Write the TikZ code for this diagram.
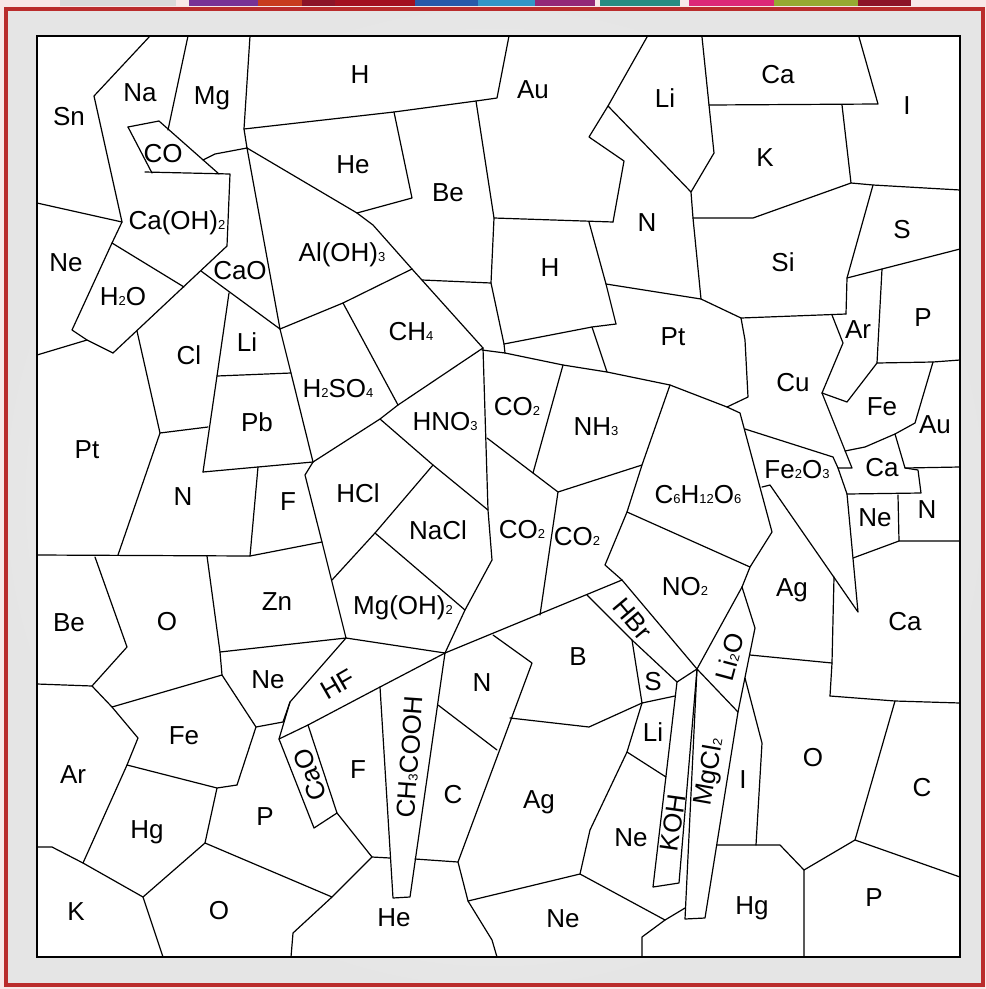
\documentclass[tikz,border=0pt]{standalone}
\usepackage{fontspec}
\setmainfont{Liberation Sans}
\newcommand{\subnum}[1]{{\fontsize{13}{13}\selectfont #1}}
\definecolor{framered}{RGB}{186,44,44}
\definecolor{outerpink}{RGB}{248,232,232}
\definecolor{stripA}{RGB}{120,50,150}
\definecolor{stripB}{RGB}{200,60,30}
\definecolor{stripC}{RGB}{140,20,40}
\definecolor{stripD}{RGB}{40,90,170}
\definecolor{stripE}{RGB}{50,150,200}
\definecolor{stripF}{RGB}{40,140,130}
\definecolor{stripG}{RGB}{220,40,120}
\definecolor{stripH}{RGB}{150,170,50}
\usetikzlibrary{positioning}

\begin{document}
\begin{tikzpicture}[x=1pt,y=-1pt]
\tikzset{
  cellline/.style={line width=1.2pt,line join=round,line cap=round},
  cellname/.style={font=\fontsize{26}{30}\selectfont,inner sep=0pt},
  boxframe/.style={line width=2pt}
}
\useasboundingbox (0,0) rectangle (986,989);
% frame and backdrop
\fill[outerpink] (0,0) rectangle (986,989);
\shade[inner color=white,outer color=gray!20] (6,9) rectangle (983,985);
\fill[gray!30] (60,0) rectangle (176,6);
\fill[stripA] (189,0) rectangle (258,6);
\fill[stripB] (258,0) rectangle (302,6);
\fill[stripC] (302,0) rectangle (335,6);
\fill[stripC!80!red] (335,0) rectangle (415,6);
\fill[stripD] (415,0) rectangle (478,6);
\fill[stripE] (478,0) rectangle (535,6);
\fill[stripA!80!red] (535,0) rectangle (595,6);
\fill[stripF] (600,0) rectangle (680,6);
\fill[stripG] (689,0) rectangle (774,6);
\fill[stripH] (774,0) rectangle (858,6);
\fill[stripC] (858,0) rectangle (911,6);
\draw[framered,line width=4pt] (6,9) rectangle (983,985);
\fill[white] (37,36) rectangle (960,957);

% cell boundaries, top left
\draw[cellline] (150,36) -- (94,96) -- (122,222) -- (112,243) -- (72,330) -- (87,340) -- (113,353);
\draw[cellline] (37,203) -- (122,222);
\draw[cellline] (37,355) -- (87,340);
\draw[cellline] (188,36) -- (168,130);
\draw[cellline] (128,127) -- (159,121) -- (219,174);
\draw[cellline] (128,127) -- (152,173);
\draw[cellline] (145,172) -- (230,174) -- (227,246) -- (113,353);
\draw[cellline] (112,243) -- (184,287);
\draw[cellline] (250,36) -- (244,129) -- (247,148);
\draw[cellline] (244,129) -- (394,112) -- (476,101) -- (497,98) -- (509,36);
\draw[cellline] (203,160) -- (215,154) -- (247,148);
\draw[cellline] (247,148) -- (357,213) -- (373,225) -- (412,269) -- (483,348);
\draw[cellline] (357,213) -- (412,198) -- (394,112);
\draw[cellline] (247,148) -- (280,329);
\draw[cellline] (201,271) -- (280,329);
\draw[cellline] (229,293) -- (217,376) -- (203,472);
\draw[cellline] (280,329) -- (343,303) -- (412,269);
\draw[cellline] (280,329) -- (291,373) -- (313,462);
\draw[cellline] (217,376) -- (291,373);
\draw[cellline] (203,472) -- (313,462);
\draw[cellline] (160,433) -- (208,427);
\draw[cellline] (137,331) -- (160,433) -- (118,555);
\draw[cellline] (37,555) -- (250,556) -- (322,542);
\draw[cellline] (258,467) -- (250,556);
\draw[cellline] (313,462) -- (305,475) -- (322,542) -- (346,638);

% cell boundaries, centre
\draw[cellline] (343,303) -- (363,340) -- (398,405);
\draw[cellline] (313,462) -- (380,419) -- (398,405) -- (483,348);
\draw[cellline] (380,419) -- (433,465) -- (488,510);
\draw[cellline] (433,465) -- (375,533) -- (332,580);
\draw[cellline] (375,533) -- (465,610);
\draw[cellline] (483,348) -- (488,510) -- (492,560) -- (465,610) -- (445,653);
\draw[cellline] (346,638) -- (445,653) -- (622,580);
\draw[cellline] (482,350) -- (505,353) -- (563,365) -- (607,372) -- (670,385) -- (727,407) -- (740,413) -- (772,532) -- (750,567) -- (742,587);
\draw[cellline] (563,365) -- (533,473) -- (558,492) -- (642,465);
\draw[cellline] (487,438) -- (533,473);
\draw[cellline] (558,492) -- (540,615);
\draw[cellline] (622,580) -- (605,565) -- (627,512) -- (642,465) -- (670,385);
\draw[cellline] (627,512) -- (750,567);
\draw[cellline] (422,280) -- (491,283);
\draw[cellline] (476,101) -- (494,218) -- (491,283) -- (504,344) -- (505,353);
\draw[cellline] (494,218) -- (613,222);
\draw[cellline] (589,222) -- (606,284) -- (616,324);
\draw[cellline] (504,344) -- (592,327) -- (616,324);
\draw[cellline] (592,327) -- (607,372);

% cell boundaries, top right
\draw[cellline] (613,222) -- (624,161) -- (589,137) -- (608,106) -- (647,37);
\draw[cellline] (608,106) -- (691,192);
\draw[cellline] (702,37) -- (709,105) -- (714,153) -- (691,192) -- (693,218) -- (701,299);
\draw[cellline] (709,105) -- (878,104) -- (859,37);
\draw[cellline] (842,105) -- (851,183) -- (873,185) -- (960,190);
\draw[cellline] (693,218) -- (753,218) -- (851,183);
\draw[cellline] (873,185) -- (847,278) -- (846,314);
\draw[cellline] (847,278) -- (882,269) -- (960,249);
\draw[cellline] (606,284) -- (701,299) -- (741,318) -- (846,314);
\draw[cellline] (727,407) -- (748,397) -- (745,340) -- (741,318);
\draw[cellline] (832,315) -- (843,343) -- (822,393) -- (847,402) -- (877,363);
\draw[cellline] (882,269) -- (877,363) -- (933,362) -- (960,360);
\draw[cellline] (822,393) -- (852,468) -- (838,468);
\draw[cellline] (933,362) -- (915,423) -- (895,434) -- (865,447) -- (845,451);
\draw[cellline] (895,434) -- (905,468) -- (918,470) -- (921,493) -- (847,494);
\draw[cellline] (905,468) -- (960,467);
\draw[cellline] (898,495) -- (899,541) -- (960,541);
\draw[cellline] (853,558) -- (899,541);
\draw[cellline] (745,429) -- (833,457) -- (838,468) -- (847,494) -- (858,612) -- (770,485) -- (762,487);

% cell boundaries, right middle and bottom right
\draw[cellline] (834,577) -- (832,663) -- (830,696);
\draw[cellline] (742,587) -- (755,628) -- (738,712);
\draw[cellline] (697,669) -- (742,587);
\draw[cellline] (750,655) -- (832,663);
\draw[cellline] (745,678) -- (762,743) -- (756,845);
\draw[cellline] (717,845) -- (780,845) -- (804,870) -- (804,957);
\draw[cellline] (804,870) -- (855,840) -- (960,877);
\draw[cellline] (855,840) -- (895,701);
\draw[cellline] (830,696) -- (895,701) -- (960,703);
\draw[cellline] (697,669) -- (685,919) -- (705,918) -- (738,712) -- (697,669);
\draw[cellline] (677,682) -- (697,669);
\draw[cellline] (677,682) -- (653,887) -- (679,883) -- (697,669);
\draw[cellline] (622,580) -- (697,669);
\draw[cellline] (587,595) -- (632,640) -- (677,682);
\draw[cellline] (632,640) -- (642,703) -- (675,696);
\draw[cellline] (510,718) -- (589,727) -- (642,703);
\draw[cellline] (642,703) -- (627,752) -- (590,830) -- (580,874) -- (468,901);
\draw[cellline] (627,752) -- (666,777);
\draw[cellline] (580,874) -- (665,920) -- (685,908);
\draw[cellline] (665,920) -- (642,937) -- (642,957);

% cell boundaries, bottom left
\draw[cellline] (493,635) -- (532,663) -- (458,862) -- (415,859);
\draw[cellline] (438,705) -- (497,750);
\draw[cellline] (458,862) -- (468,901) -- (492,940) -- (497,957);
\draw[cellline] (380,687) -- (393,898) -- (410,897) -- (445,653);
\draw[cellline] (256,727) -- (283,722) -- (290,702) -- (346,638);
\draw[cellline] (290,702) -- (279,739) -- (308,725) -- (380,687) -- (445,653);
\draw[cellline] (279,739) -- (314,828) -- (337,813) -- (308,725);
\draw[cellline] (337,813) -- (372,857) -- (390,858);
\draw[cellline] (372,857) -- (332,897);
\draw[cellline] (207,556) -- (220,652) -- (222,675);
\draw[cellline] (220,652) -- (346,638);
\draw[cellline] (95,557) -- (127,647) -- (92,686) -- (37,684);
\draw[cellline] (92,686) -- (112,707) -- (222,675) -- (256,727) -- (237,785);
\draw[cellline] (112,707) -- (138,738) -- (127,765) -- (83,863);
\draw[cellline] (127,765) -- (217,788) -- (237,785);
\draw[cellline] (37,847) -- (52,847) -- (83,863) -- (143,897) -- (163,957);
\draw[cellline] (217,788) -- (205,843) -- (143,897);
\draw[cellline] (205,843) -- (332,897) -- (293,933) -- (291,957);

\draw[boxframe] (37,36) rectangle (960,957);

% names of the cells
\node[cellname] (l_Sn) at (69,117) {Sn};
\node[cellname] (l_Na) at (140,93) {Na};
\node[cellname] (l_Mg) at (212,98) {Mg};
\node[cellname] (l_H1) at (360,75) {H};
\node[cellname] (l_Au1) at (533,90) {Au};
\node[cellname] (l_Li1) at (665,98) {Li};
\node[cellname] (l_Ca1) at (778,75) {Ca};
\node[cellname] (l_I1) at (907,106) {I};
\node[cellname] (l_CO) at (163,154) {CO};
\node[cellname] (l_He1) at (353,165) {He};
\node[cellname] (l_Be1) at (448,193) {Be};
\node[cellname] (l_K1) at (765,158) {K};
\node[cellname] (l_N1) at (647,223) {N};
\node[cellname] (l_S1) at (902,230) {S};
\node[cellname] (l_CaOH) at (177,223) {Ca(OH)\subnum{2}};
\node[cellname] (l_Ne1) at (66,263) {Ne};
\node[cellname] (l_HtwoO) at (123,297) {H\subnum{2}O};
\node[cellname] (l_CaO1) at (240,271) {CaO};
\node[cellname] (l_AlOH) at (342,255) {Al(OH)\subnum{3}};
\node[cellname] (l_H2) at (550,268) {H};
\node[cellname] (l_Si) at (783,262) {Si};
\node[cellname] (l_Cl) at (189,355) {Cl};
\node[cellname] (l_Li2) at (247,342) {Li};
\node[cellname] (l_CHfour) at (411,332) {CH\subnum{4}};
\node[cellname] (l_Pt1) at (673,337) {Pt};
\node[cellname] (l_Ar1) at (858,330) {Ar};
\node[cellname] (l_P1) at (923,318) {P};
\node[cellname] (l_Cu) at (793,383) {Cu};
\node[cellname] (l_Pt2) at (87,450) {Pt};
\node[cellname] (l_HtwoSO) at (338,389) {H\subnum{2}SO\subnum{4}};
\node[cellname] (l_HNO) at (445,422) {HNO\subnum{3}};
\node[cellname] (l_COtwo1) at (517,407) {CO\subnum{2}};
\node[cellname] (l_NH) at (596,427) {NH\subnum{3}};
\node[cellname] (l_Pb) at (257,422) {Pb};
\node[cellname] (l_Fe1) at (882,407) {Fe};
\node[cellname] (l_Au2) at (935,425) {Au};
\node[cellname] (l_N2) at (183,497) {N};
\node[cellname] (l_F1) at (288,502) {F};
\node[cellname] (l_HCl) at (358,493) {HCl};
\node[cellname] (l_NaCl) at (438,530) {NaCl};
\node[cellname] (l_COtwo2) at (522,530) {CO\subnum{2}};
\node[cellname] (l_COtwo3) at (577,537) {CO\subnum{2}};
\node[cellname] (l_Gluc) at (698,495) {C\subnum{6}H\subnum{12}O\subnum{6}};
\node[cellname] (l_FeO) at (797,470) {Fe\subnum{2}O\subnum{3}};
\node[cellname] (l_Ca2) at (882,468) {Ca};
\node[cellname] (l_Ne2) at (875,518) {Ne};
\node[cellname] (l_N3) at (927,510) {N};
\node[cellname] (l_Be2) at (69,623) {Be};
\node[cellname] (l_O1) at (167,622) {O};
\node[cellname] (l_Zn) at (277,602) {Zn};
\node[cellname] (l_MgOH) at (403,608) {Mg(OH)\subnum{2}};
\node[cellname] (l_NOtwo) at (685,587) {NO\subnum{2}};
\node[cellname] (l_Ag1) at (792,590) {Ag};
\node[cellname,rotate=-50] (l_HBr) at (633,619) {HBr};
\node[cellname] (l_Ca3) at (905,622) {Ca};
\node[cellname] (l_Ne3) at (268,680) {Ne};
\node[cellname,rotate=30] (l_HF) at (338,684) {HF};
\node[cellname] (l_N4) at (482,683) {N};
\node[cellname] (l_B) at (578,657) {B};
\node[cellname] (l_S2) at (653,682) {S};
\node[cellname,rotate=75] (l_LiO) at (730,657) {Li\subnum{2}O};
\node[cellname] (l_Fe2) at (184,736) {Fe};
\node[cellname] (l_Ar2) at (73,775) {Ar};
\node[cellname,rotate=111] (l_CaO2) at (310,775) {CaO};
\node[cellname] (l_F2) at (358,770) {F};
\node[cellname,rotate=86] (l_Acid) at (410,757) {CH\subnum{3}COOH};
\node[cellname] (l_C1) at (453,795) {C};
\node[cellname] (l_Ag2) at (539,802) {Ag};
\node[cellname] (l_Li3) at (653,732) {Li};
\node[cellname,rotate=82] (l_KOH) at (673,823) {KOH};
\node[cellname,rotate=80] (l_MgCl) at (710,772) {MgCl\subnum{2}};
\node[cellname] (l_I2) at (743,780) {I};
\node[cellname] (l_O2) at (813,758) {O};
\node[cellname] (l_C2) at (922,788) {C};
\node[cellname] (l_Hg1) at (147,832) {Hg};
\node[cellname] (l_P2) at (265,817) {P};
\node[cellname] (l_Ne4) at (631,838) {Ne};
\node[cellname] (l_Hg2) at (752,908) {Hg};
\node[cellname] (l_P3) at (874,898) {P};
\node[cellname] (l_K2) at (76,912) {K};
\node[cellname] (l_O3) at (219,911) {O};
\node[cellname] (l_He2) at (394,918) {He};
\node[cellname] (l_Ne5) at (563,919) {Ne};
\end{tikzpicture}
\end{document}
